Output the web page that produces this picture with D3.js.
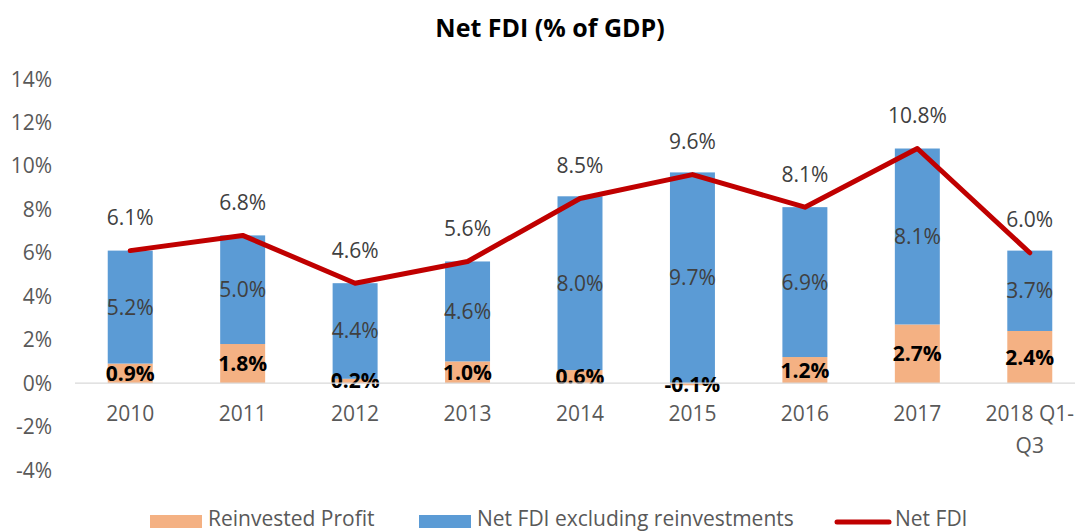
<!DOCTYPE html>
<html><head><meta charset="utf-8">
<script src="https://cdn.jsdelivr.net/npm/d3@7"></script>
<style>body{margin:0;background:#fff}svg{display:block}text{font-family:"Open Sans",sans-serif}</style>
</head><body><svg id="c" width="1075" height="531"></svg>
<script>
const categories = ["2010","2011","2012","2013","2014","2015","2016","2017","2018 Q1-Q3"];
const categoryLines = [["2010"],["2011"],["2012"],["2013"],["2014"],["2015"],["2016"],["2017"],["2018 Q1-","Q3"]];
const reinvested = [0.9,1.8,0.2,1.0,0.6,-0.1,1.2,2.7,2.4];
const netExcl = [5.2,5.0,4.4,4.6,8.0,9.7,6.9,8.1,3.7];
const netFDI = [6.1,6.8,4.6,5.6,8.5,9.6,8.1,10.8,6.0];
const yTicks = [-4,-2,0,2,4,6,8,10,12,14];
const seriesNames = ["Reinvested Profit","Net FDI excluding reinvestments","Net FDI"];
const colors = ["#F4B183","#5B9BD5","#C00000"];

const FS = 21;
const svg = d3.select("#c");
const x = d3.scaleBand().domain(categories).range([74,1086]).paddingInner(0.6).paddingOuter(0.3);
const y = d3.scaleLinear().domain([-4,14]).range([470,79]);
const fmt = v => v.toFixed(1)+"%";

svg.append("text").attr("x",550).attr("y",37).attr("text-anchor","middle")
  .attr("font-size",25).attr("font-weight","bold").attr("fill","#000").text("Net FDI (% of GDP)");

// y tick labels
svg.append("g").selectAll("text").data(yTicks).join("text")
  .attr("x",52).attr("y",d=>y(d)+7.5).attr("text-anchor","end")
  .attr("font-size",FS).attr("fill","#595959").text(d=>d+"%");

// bars
const bw = x.bandwidth();
const data = categories.map((c,i)=>{
  const r = reinvested[i], n = netExcl[i];
  let rs, ns;
  if (r>=0){ rs=[0,r]; ns=[r,r+n]; } else { rs=[r,0]; ns=[0,n]; }
  return {c, r, n, rs, ns, t:netFDI[i]};
});
const g = svg.append("g");
g.selectAll("rect.r").data(data).join("rect").attr("class","r")
  .attr("x",d=>x(d.c)).attr("width",bw)
  .attr("y",d=>y(d.rs[1])).attr("height",d=>y(d.rs[0])-y(d.rs[1])).attr("fill",colors[0]);
g.selectAll("rect.n").data(data).join("rect").attr("class","n")
  .attr("x",d=>x(d.c)).attr("width",bw)
  .attr("y",d=>y(d.ns[1])).attr("height",d=>y(d.ns[0])-y(d.ns[1])).attr("fill",colors[1]);

// zero axis line
svg.append("line").attr("x1",75).attr("x2",1075).attr("y1",y(0)).attr("y2",y(0))
  .attr("stroke","#D9D9D9").attr("stroke-width",1.3);

// category labels
const cl = svg.append("g");
data.forEach((d,i)=>{
  categoryLines[i].forEach((t,j)=>{
    cl.append("text").attr("x",x(d.c)+bw/2).attr("y",420.5+j*32).attr("text-anchor","middle")
      .attr("font-size",FS).attr("fill","#595959").text(t);
  });
});

// segment labels
g.selectAll("text.nl").data(data).join("text").attr("class","nl")
  .attr("x",d=>x(d.c)+bw/2).attr("y",d=>y((d.ns[0]+d.ns[1])/2)+7.5).attr("text-anchor","middle")
  .attr("font-size",FS).attr("fill","#404040").text(d=>fmt(d.n));
g.selectAll("text.rl").data(data).join("text").attr("class","rl")
  .attr("x",d=>x(d.c)+bw/2).attr("y",d=>y((d.rs[0]+d.rs[1])/2)+7.5).attr("text-anchor","middle")
  .attr("font-size",FS).attr("font-weight","bold").attr("fill","#000").text(d=>fmt(d.r));

// line
const line = d3.line().x(d=>x(d.c)+bw/2).y(d=>y(d.t));
svg.append("path").datum(data).attr("d",line).attr("fill","none")
  .attr("stroke",colors[2]).attr("stroke-width",5).attr("stroke-linejoin","round").attr("stroke-linecap","round");
svg.append("g").selectAll("text").data(data).join("text")
  .attr("x",d=>x(d.c)+bw/2).attr("y",d=>y(d.t)-25.5).attr("text-anchor","middle")
  .attr("font-size",FS).attr("fill","#404040").text(d=>fmt(d.t));

// legend
const lg = svg.append("g");
lg.append("rect").attr("x",150).attr("y",515).attr("width",52).attr("height",13).attr("fill",colors[0]);
lg.append("text").attr("x",208).attr("y",526).attr("font-size",FS).attr("fill","#595959").text(seriesNames[0]);
lg.append("rect").attr("x",419).attr("y",515).attr("width",52).attr("height",13).attr("fill",colors[1]);
lg.append("text").attr("x",477).attr("y",526).attr("font-size",FS).attr("fill","#595959").text(seriesNames[1]);
lg.append("line").attr("x1",837).attr("x2",889).attr("y1",522).attr("y2",522)
  .attr("stroke",colors[2]).attr("stroke-width",5).attr("stroke-linecap","round");
lg.append("text").attr("x",895).attr("y",526).attr("font-size",FS).attr("fill","#595959").text(seriesNames[2]);
</script></body></html>
